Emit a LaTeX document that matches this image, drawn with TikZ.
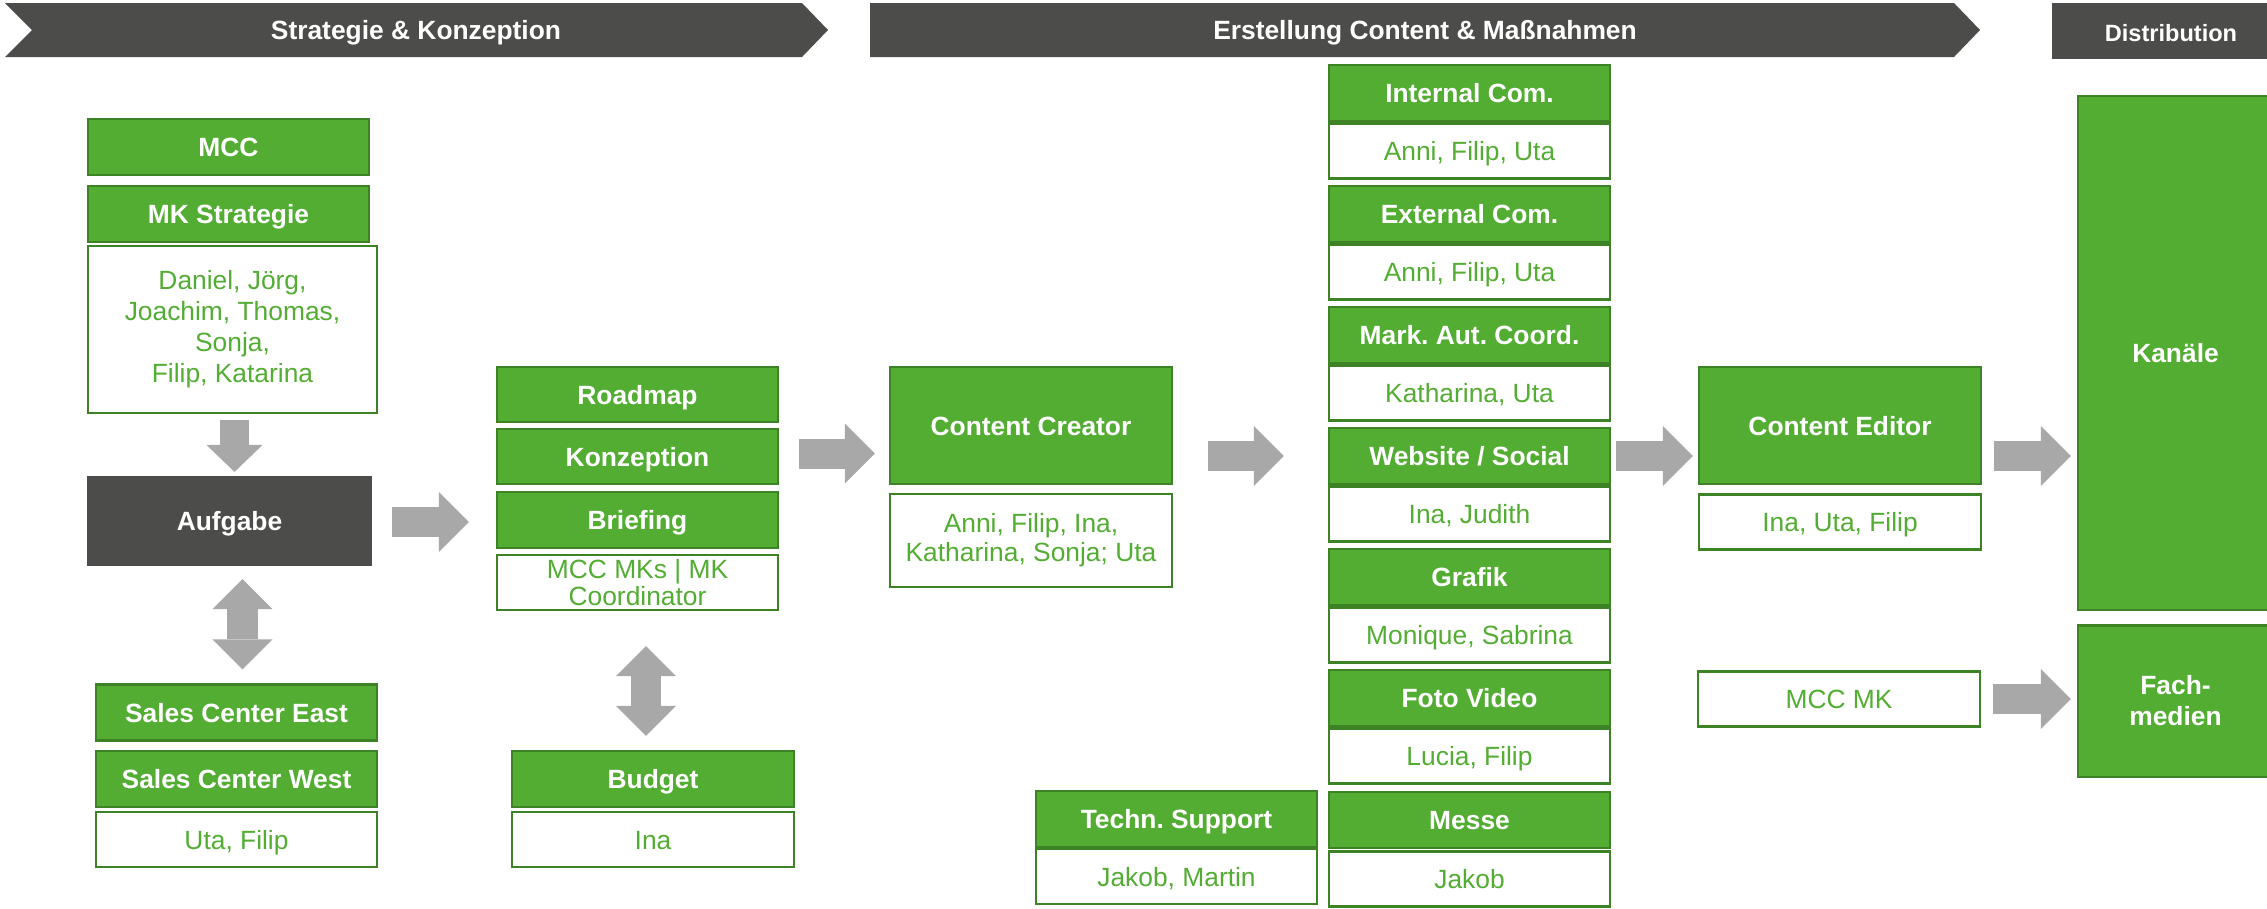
\documentclass[tikz,border=0pt]{standalone}
\usepackage{fontspec}
\setmainfont{Liberation Sans}
\usepackage{tikz}
\usetikzlibrary{arrows.meta,calc}
\frenchspacing

\definecolor{mccgreen}{RGB}{83,173,51}
\definecolor{mccedge}{RGB}{62,130,38}
\definecolor{phasegrey}{RGB}{76,76,74}
\definecolor{flowgrey}{RGB}{168,168,168}

\begin{document}
\begin{tikzpicture}[x=0.01cm, y=-0.01cm,
	font=\fontsize{7.5}{8.8}\selectfont,
	role/.style={draw=mccedge, fill=mccgreen, line width=0.6pt, text=white, font=\fontsize{7.5}{8.8}\selectfont\bfseries, minimum width=2.81cm, minimum height=0.56cm, inner sep=0, text height=5.4pt, text depth=0pt, align=center},
	crew/.style={draw=mccedge, fill=white, line width=0.6pt, text=mccgreen, minimum width=2.81cm, minimum height=0.55cm, inner sep=0, text height=5.4pt, text depth=0pt, align=center},
	multiline/.style={text height=, text depth=},
	phase/.style={fill=phasegrey},
	phasetext/.style={text=white, font=\fontsize{7.5}{8.8}\selectfont\bfseries, inner sep=0, text height=5.4pt, text depth=0pt},
	flow/.style={flowgrey, line width=0.3cm, -{Triangle[length=0.3cm, width=0.6cm, line width=0pt]}},
	flowdown/.style={flowgrey, line width=0.28cm, -{Triangle[length=0.27cm, width=0.56cm, line width=0pt]}},
	flowboth/.style={flowgrey, line width=0.3cm, {Triangle[length=0.3cm, width=0.6cm, line width=0pt]}-{Triangle[length=0.3cm, width=0.6cm, line width=0pt]}}
]
\useasboundingbox (0,0) rectangle (2267,908);

% phase bars
\fill[phase] (5,3) -- (802,3) -- (828,30) -- (802,57) -- (5,57) -- (32,30) -- cycle;
\node[phasetext] (ph1) at (416,30) {Strategie \& Konzeption};
\fill[phase] (870,3) -- (1954,3) -- (1980,30) -- (1954,57) -- (870,57) -- cycle;
\node[phasetext] (ph2) at (1425,30) {Erstellung Content \& Maßnahmen};
\fill[phase] (2052,3) rectangle (2267,59);
\node[phasetext, font=\fontsize{6.7}{8}\selectfont\bfseries, text height=4.8pt] (ph3) at (2171,33) {Distribution};

% strategy
\node[role] (mcc) at (228.5,147) {MCC};
\node[role] (mkstrat) at (228.5,214) {MK Strategie};
\node[crew, multiline, minimum width=2.89cm, minimum height=1.67cm] (team) at (232.5,329.5) {Daniel, Jörg,\\Joachim, Thomas,\\Sonja,\\Filip, Katarina};
\node[role, fill=phasegrey, draw=phasegrey, minimum width=2.83cm, minimum height=0.88cm] (aufgabe) at (229.5,521) {Aufgabe};
\node[role] (salese) at (236.5,712.5) {Sales Center East};
\node[role] (salesw) at (236.5,779) {Sales Center West};
\node[crew] (salesteam) at (236.5,839.5) {Uta, Filip};

% concept
\node[role, minimum height=0.55cm] (roadmap) at (637.5,394.5) {Roadmap};
\node[role, minimum height=0.55cm] (konzeption) at (637.5,456.5) {Konzeption};
\node[role] (briefing) at (637.5,520) {Briefing};
\node[crew, multiline, font=\fontsize{7.5}{7.9}\selectfont] (briefteam) at (637.5,582.5) {MCC MKs | MK\\Coordinator};
\node[role] (budget) at (653,779) {Budget};
\node[crew] (budgetteam) at (653,839.5) {Ina};

% content creation
\node[role, minimum width=2.82cm, minimum height=1.17cm] (creator) at (1031,425.5) {Content Creator};
\node[crew, multiline, minimum width=2.82cm, minimum height=0.93cm, font=\fontsize{7.5}{8.2}\selectfont] (creatorteam) at (1031,540.5) {Anni, Filip, Ina,\\Katharina, Sonja; Uta};

\node[role] (internal) at (1469.5,93) {Internal Com.};
\node[crew] (internalteam) at (1469.5,151) {Anni, Filip, Uta};
\node[role] (external) at (1469.5,214) {External Com.};
\node[crew] (externalteam) at (1469.5,272) {Anni, Filip, Uta};
\node[role] (markaut) at (1469.5,335) {Mark. Aut. Coord.};
\node[crew] (markautteam) at (1469.5,393) {Katharina, Uta};
\node[role] (website) at (1469.5,456) {Website / Social};
\node[crew] (websiteteam) at (1469.5,514) {Ina, Judith};
\node[role] (grafik) at (1469.5,577) {Grafik};
\node[crew] (grafikteam) at (1469.5,635) {Monique, Sabrina};
\node[role] (foto) at (1469.5,698) {Foto Video};
\node[crew] (fototeam) at (1469.5,756) {Lucia, Filip};
\node[role] (messe) at (1469.5,820) {Messe};
\node[crew] (messeteam) at (1469.5,879) {Jakob};
\node[role] (support) at (1176.5,819) {Techn. Support};
\node[crew] (supportteam) at (1176.5,876.5) {Jakob, Martin};

\node[role, minimum width=2.82cm, minimum height=1.17cm] (editor) at (1840,425.5) {Content Editor};
\node[crew, minimum width=2.82cm] (editorteam) at (1840,522) {Ina, Uta, Filip};
\node[crew, minimum width=2.82cm] (mccmk) at (1839,699) {MCC MK};

% distribution
\node[role, minimum width=1.95cm, minimum height=5.14cm] (kanaele) at (2175.5,353) {Kanäle};
\node[role, multiline, minimum width=1.95cm, minimum height=1.51cm] (fachmedien) at (2175.5,701) {Fach-\\medien};

% flow arrows
\draw[flowdown] ($(team.south)+(2,6)$) -- ($(aufgabe.north -| team.south)+(2,-4)$);
\draw[flowboth] ($(aufgabe.south)+(13,13)$) -- ($(aufgabe.south |- salese.north)+(13,-14)$);
\draw[flowboth] ($(briefteam.south)+(8.5,35)$) -- ($(briefteam.south |- budget.north)+(8.5,-14)$);
\draw[flow] ($(aufgabe.east)+(20,1)$) -- ($(aufgabe.east -| briefing.west)+(-27,1)$);
\draw[flow] ($(konzeption.east)+(20,-3)$) -- ($(konzeption.east -| creator.west)+(-14,-3)$);
\draw[flow] ($(website.west -| creator.east)+(35,0)$) -- ($(website.west)+(-44,0)$);
\draw[flow] ($(website.east)+(5,0)$) -- ($(website.east -| editor.west)+(-5,0)$);
\draw[flow] ($(website.east -| editor.east)+(12,0)$) -- ($(website.east -| kanaele.west)+(-6,0)$);
\draw[flow] ($(mccmk.east)+(12,0)$) -- ($(mccmk.east -| fachmedien.west)+(-6,0)$);
\end{tikzpicture}
\end{document}
